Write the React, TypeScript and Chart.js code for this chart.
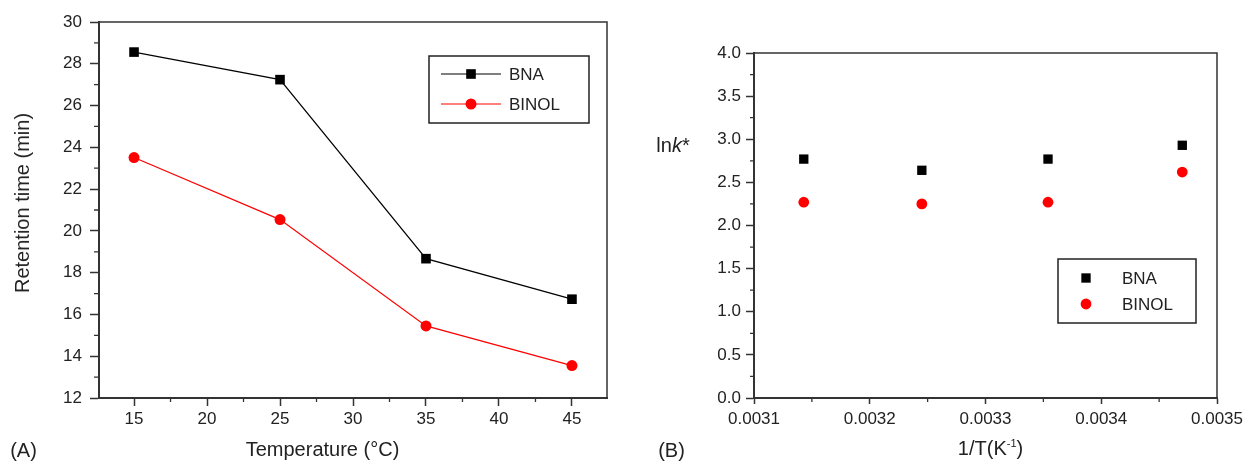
import React, { useEffect, useRef } from 'react';
import { Chart, registerables } from 'chart.js';

Chart.register(...registerables);

// ---- Data (A): retention time vs temperature ----
const temperatures = [15, 25, 35, 45];
const bnaRetention = [28.56, 27.24, 18.67, 16.73];
const binolRetention = [23.51, 20.54, 15.45, 13.55];

// ---- Data (B): ln k* vs 1/T ----
const inverseT = [0.003143, 0.003245, 0.003354, 0.00347];
const bnaLnk = [2.77, 2.64, 2.77, 2.93];
const binolLnk = [2.27, 2.25, 2.27, 2.62];

// ---- Tick values ----
const leftXTicks = [15, 20, 25, 30, 35, 40, 45];
const leftXMinor = [17.5, 22.5, 27.5, 32.5, 37.5, 42.5];
const leftYTicks = [12, 14, 16, 18, 20, 22, 24, 26, 28, 30];
const leftYMinor = [13, 15, 17, 19, 21, 23, 25, 27, 29];
const rightXTicks = [0.0031, 0.0032, 0.0033, 0.0034, 0.0035];
const rightXMinor = [0.00315, 0.00325, 0.00335, 0.00345];
const rightYTicks = [0, 0.5, 1, 1.5, 2, 2.5, 3, 3.5, 4];
const rightYMinor = [0.25, 0.75, 1.25, 1.75, 2.25, 2.75, 3.25, 3.75];

const seriesNames = ['BNA', 'BINOL'];

const FONT = '"Liberation Sans", Arial, Helvetica, sans-serif';
const AXIS = '#333333';
const TEXT = '#222222';
const RED = '#ff0000';

const framePlugin = {
  id: 'frame',
  afterDraw(chart: any, _args: any, opts: any) {
    const ctx = chart.ctx;
    const { left, right, top, bottom } = chart.chartArea;
    const xs = chart.scales.x;
    const ys = chart.scales.y;
    ctx.save();
    // top and right frame lines
    ctx.strokeStyle = AXIS;
    ctx.lineWidth = 1.5;
    ctx.beginPath();
    ctx.moveTo(left, top);
    ctx.lineTo(right, top);
    ctx.lineTo(right, bottom);
    ctx.stroke();
    // minor ticks
    ctx.lineWidth = 1.3;
    ctx.beginPath();
    for (const v of opts.xMinor) {
      const px = xs.getPixelForValue(v);
      ctx.moveTo(px, bottom);
      ctx.lineTo(px, bottom + opts.xMinorLen);
    }
    for (const v of opts.yMinor) {
      const py = ys.getPixelForValue(v);
      ctx.moveTo(left, py);
      ctx.lineTo(left - opts.yMinorLen, py);
    }
    ctx.stroke();
    // legend
    const lg = opts.legend;
    ctx.lineWidth = 1.5;
    ctx.strokeStyle = '#222';
    ctx.strokeRect(lg.x, lg.y, lg.w, lg.h);
    chart.data.datasets.forEach((ds: any, i: number) => {
      const y = lg.rows[i];
      if (lg.line) {
        ctx.strokeStyle = ds.borderColor;
        ctx.lineWidth = 1.2;
        ctx.beginPath();
        ctx.moveTo(lg.lineX1, y);
        ctx.lineTo(lg.lineX2, y);
        ctx.stroke();
      }
      ctx.fillStyle = ds.backgroundColor;
      const r = ds.pointRadius;
      if (ds.pointStyle === 'rect') {
        const s = r * Math.SQRT2;
        ctx.fillRect(lg.markerX - s / 2, y - s / 2, s, s);
      } else {
        ctx.beginPath();
        ctx.arc(lg.markerX, y, r, 0, Math.PI * 2);
        ctx.fill();
      }
      ctx.fillStyle = TEXT;
      ctx.font = `17px ${FONT}`;
      ctx.textBaseline = 'middle';
      ctx.textAlign = 'left';
      ctx.fillText(ds.label, lg.textX, y + 1);
    });
    ctx.restore();
  },
};

function makeScale(
  min: number,
  max: number,
  ticks: number[],
  fmt: (v: number) => string,
  tickLen: number,
  pad: number,
  fit: (s: any) => void
) {
  return {
    type: 'linear',
    min,
    max,
    afterBuildTicks: (s: any) => {
      s.ticks = ticks.map((v) => ({ value: v }));
    },
    afterFit: fit,
    ticks: {
      callback: (v: any) => fmt(Number(v)),
      font: { family: FONT, size: 17 },
      color: TEXT,
      padding: pad,
      maxRotation: 0,
      autoSkip: false,
    },
    grid: {
      display: true,
      drawOnChartArea: false,
      drawTicks: true,
      tickLength: tickLen,
      tickWidth: 1.5,
      tickColor: AXIS,
    },
    border: { display: true, color: AXIS, width: 2 },
  };
}

export default function App() {
  const leftRef = useRef<HTMLCanvasElement>(null);
  const rightRef = useRef<HTMLCanvasElement>(null);

  useEffect(() => {
    const left = new Chart(leftRef.current as HTMLCanvasElement, {
      type: 'scatter',
      data: {
        datasets: [
          {
            label: seriesNames[0],
            data: temperatures.map((t, i) => ({ x: t, y: bnaRetention[i] })),
            showLine: true,
            borderColor: '#000000',
            backgroundColor: '#000000',
            borderWidth: 1.2,
            pointStyle: 'rect',
            pointRadius: 6.8,
            pointBorderWidth: 0,
          },
          {
            label: seriesNames[1],
            data: temperatures.map((t, i) => ({ x: t, y: binolRetention[i] })),
            showLine: true,
            borderColor: RED,
            backgroundColor: RED,
            borderWidth: 1.2,
            pointStyle: 'circle',
            pointRadius: 5.5,
            pointBorderWidth: 0,
          },
        ],
      },
      options: {
        responsive: false,
        animation: false,
        events: [],
        layout: { padding: { left: 0, right: 13, top: 22, bottom: 0 } },
        scales: {
          x: makeScale(12.6, 47.4, leftXTicks, (v) => String(v), 8, 3, (s: any) => {
            s.height = 65;
          }),
          y: makeScale(12, 30, leftYTicks, (v) => String(v), 9, 8, (s: any) => {
            s.width = 99;
          }),
        } as any,
        plugins: {
          legend: { display: false },
          tooltip: { enabled: false },
          frame: {
            xMinor: leftXMinor,
            yMinor: leftYMinor,
            xMinorLen: 4,
            yMinorLen: 5,
            legend: {
              x: 429,
              y: 56,
              w: 160,
              h: 67,
              rows: [74, 104],
              line: true,
              lineX1: 441,
              lineX2: 501,
              markerX: 471,
              textX: 509,
            },
          },
        } as any,
      },
      plugins: [framePlugin],
    } as any);

    const right = new Chart(rightRef.current as HTMLCanvasElement, {
      type: 'scatter',
      data: {
        datasets: [
          {
            label: seriesNames[0],
            data: inverseT.map((t, i) => ({ x: t, y: bnaLnk[i] })),
            showLine: false,
            borderColor: '#000000',
            backgroundColor: '#000000',
            pointStyle: 'rect',
            pointRadius: 6.6,
            pointBorderWidth: 0,
          },
          {
            label: seriesNames[1],
            data: inverseT.map((t, i) => ({ x: t, y: binolLnk[i] })),
            showLine: false,
            borderColor: RED,
            backgroundColor: RED,
            pointStyle: 'circle',
            pointRadius: 5.4,
            pointBorderWidth: 0,
          },
        ],
      },
      options: {
        responsive: false,
        animation: false,
        events: [],
        layout: { padding: { left: 0, right: 32, top: 53, bottom: 0 } },
        scales: {
          x: makeScale(0.0031, 0.0035, rightXTicks, (v) => v.toFixed(4), 6, 5, (s: any) => {
            s.height = 65;
          }),
          y: makeScale(0, 4, rightYTicks, (v) => v.toFixed(1), 8, 5, (s: any) => {
            s.width = 134;
          }),
        } as any,
        plugins: {
          legend: { display: false },
          tooltip: { enabled: false },
          frame: {
            xMinor: rightXMinor,
            yMinor: rightYMinor,
            xMinorLen: 4,
            yMinorLen: 4,
            legend: {
              x: 438,
              y: 259,
              w: 138,
              h: 64,
              rows: [278, 304],
              line: false,
              lineX1: 0,
              lineX2: 0,
              markerX: 466,
              textX: 502,
            },
          },
        } as any,
      },
      plugins: [framePlugin],
    } as any);

    return () => {
      left.destroy();
      right.destroy();
    };
  }, []);

  const label = (x: number, y: number, extra: React.CSSProperties = {}): React.CSSProperties => ({
    position: 'absolute',
    left: x,
    top: y,
    transform: 'translate(-50%, -50%)',
    fontFamily: FONT,
    fontSize: 20,
    lineHeight: 1,
    color: TEXT,
    whiteSpace: 'nowrap',
    ...extra,
  });

  return (
    <div
      style={{
        position: 'absolute',
        left: 0,
        top: 0,
        width: 1249,
        height: 463,
        background: '#ffffff',
        overflow: 'hidden',
      }}
    >
      <canvas
        ref={leftRef}
        width={620}
        height={463}
        style={{ position: 'absolute', left: 0, top: 0, width: 620, height: 463 }}
      />
      <canvas
        ref={rightRef}
        width={629}
        height={463}
        style={{ position: 'absolute', left: 620, top: 0, width: 629, height: 463 }}
      />
      <div style={label(21.5, 202.5, { transform: 'translate(-50%, -50%) rotate(-90deg)' })}>
        Retention time (min)
      </div>
      <div style={label(322.5, 449)}>Temperature (°C)</div>
      <div style={label(23.5, 450)}>(A)</div>
      <div style={label(671.5, 450)}>(B)</div>
      <div style={label(673, 145)}>
        ln<i>k</i>*
      </div>
      <div style={label(990.5, 448)}>
        1/T(K<sup style={{ fontSize: 11, verticalAlign: 'super', lineHeight: 0 }}>-1</sup>)
      </div>
    </div>
  );
}
